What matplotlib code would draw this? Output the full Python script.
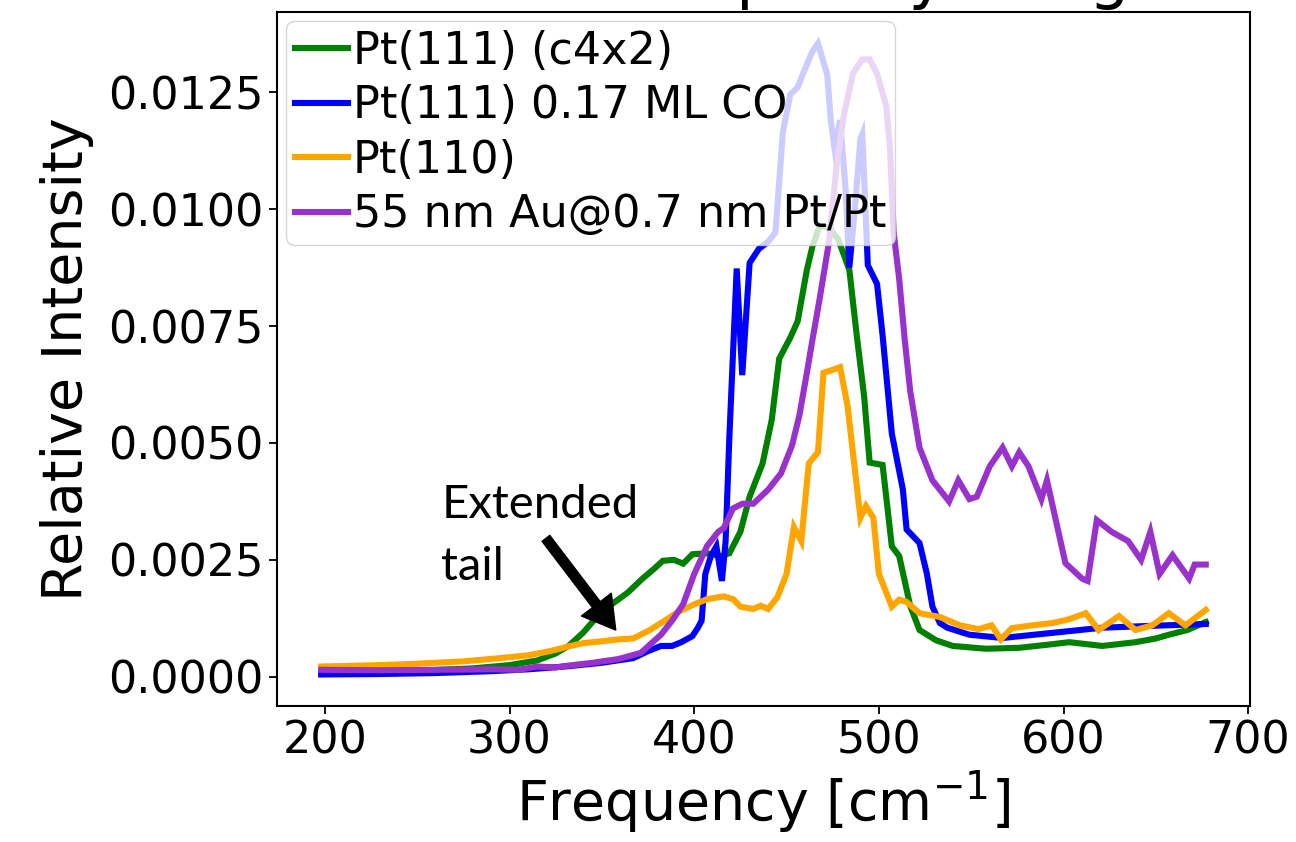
import matplotlib
matplotlib.use("Agg")
import matplotlib.pyplot as plt

# Spectra: frequency (cm^-1) and relative intensity for each surface
freq_c4x2 = [198, 220, 250, 280, 300, 315, 325, 332, 340, 349, 357, 364, 372, 378, 383,
             389, 394, 399, 407, 414, 419, 425, 430, 437, 442, 446, 452, 456, 461, 464,
             468, 473, 478, 484, 488, 492, 495, 502, 507, 511, 517, 522, 531, 540, 558,
             576, 590, 603, 612, 621, 639, 650, 657, 667, 677]
int_c4x2 = [0.00010, 0.00011, 0.00013, 0.00018, 0.00025, 0.00035, 0.00050, 0.00066,
            0.00095, 0.00136, 0.00160, 0.00180, 0.00210, 0.00230, 0.00248, 0.00250,
            0.00242, 0.00262, 0.00264, 0.00258, 0.00264, 0.00310, 0.00385, 0.00456,
            0.00550, 0.00680, 0.00725, 0.00760, 0.00870, 0.00920, 0.00965, 0.00960,
            0.00935, 0.00870, 0.00730, 0.00600, 0.00458, 0.00453, 0.00279, 0.00258,
            0.00151, 0.00100, 0.00078, 0.00066, 0.00060, 0.00062, 0.00068, 0.00074,
            0.00070, 0.00066, 0.00074, 0.00082, 0.00090, 0.00100, 0.00117]

freq_co = [198, 230, 260, 290, 310, 330, 350, 367, 375, 382, 388, 393, 399, 402, 404,
           406, 409, 412, 415, 417, 419, 423, 426, 430, 435, 440, 444, 448, 452, 456,
           459, 464, 467, 472, 474, 476, 479, 482, 484, 487, 490, 491, 494, 499, 502,
           507, 513, 515, 522, 526, 529, 533, 537, 549, 567, 594, 621, 648, 677]
int_co = [0.00005, 0.00006, 0.00008, 0.00012, 0.00016, 0.00022, 0.00030, 0.00040,
          0.00055, 0.00066, 0.00066, 0.00074, 0.00087, 0.00105, 0.00120, 0.00220,
          0.00258, 0.00279, 0.00205, 0.00290, 0.00510, 0.00873, 0.00645, 0.00885,
          0.00915, 0.00930, 0.00950, 0.01165, 0.01245, 0.01260, 0.01290, 0.01337,
          0.01354, 0.01288, 0.01188, 0.01130, 0.01190, 0.01040, 0.00875, 0.01000,
          0.01150, 0.01160, 0.00880, 0.00840, 0.00730, 0.00520, 0.00400, 0.00315,
          0.00286, 0.00220, 0.00150, 0.00115, 0.00105, 0.00090, 0.00083, 0.00094,
          0.00105, 0.00109, 0.00113]

freq_110 = [198, 230, 250, 275, 295, 310, 322, 333, 340, 350, 359, 367, 376, 384, 391,
            400, 407, 416, 421, 425, 432, 436, 440, 445, 450, 454, 458, 462, 467, 470,
            474, 479, 483, 490, 493, 497, 500, 507, 511, 515, 522, 533, 544, 554, 561,
            566, 572, 583, 594, 603, 612, 619, 630, 639, 648, 657, 666, 677]
int_110 = [0.00022, 0.00025, 0.00028, 0.00033, 0.00040, 0.00046, 0.00055, 0.00066,
           0.00072, 0.00076, 0.00080, 0.00082, 0.00100, 0.00120, 0.00138, 0.00155,
           0.00166, 0.00172, 0.00166, 0.00150, 0.00145, 0.00152, 0.00145, 0.00170,
           0.00220, 0.00320, 0.00290, 0.00456, 0.00480, 0.00650, 0.00655, 0.00662,
           0.00580, 0.00340, 0.00365, 0.00340, 0.00220, 0.00150, 0.00165, 0.00160,
           0.00136, 0.00128, 0.00110, 0.00102, 0.00110, 0.00080, 0.00104, 0.00110,
           0.00115, 0.00123, 0.00136, 0.00100, 0.00130, 0.00100, 0.00110, 0.00136,
           0.00110, 0.00143]

freq_aupt = [198, 230, 260, 290, 305, 315, 325, 332, 345, 359, 371, 382, 388, 394, 400,
             407, 413, 416, 421, 426, 432, 440, 447, 453, 457, 461, 464, 468, 473, 477,
             481, 486, 491, 495, 499, 504, 506, 508, 511, 514, 517, 522, 529, 538, 543,
             549, 553, 560, 567, 572, 576, 581, 588, 591, 601, 610, 613, 618, 626, 635,
             642, 647, 652, 659, 668, 671, 677]
int_aupt = [0.00015, 0.00014, 0.00015, 0.00016, 0.00015, 0.00022, 0.00020, 0.00024,
            0.00030, 0.00038, 0.00051, 0.00090, 0.00120, 0.00155, 0.00220, 0.00280,
            0.00310, 0.00318, 0.00360, 0.00370, 0.00370, 0.00400, 0.00435, 0.00495,
            0.00560, 0.00650, 0.00720, 0.00810, 0.00930, 0.01090, 0.01200, 0.01290,
            0.01320, 0.01320, 0.01290, 0.01220, 0.01130, 0.00950, 0.00850, 0.00720,
            0.00610, 0.00490, 0.00420, 0.00375, 0.00420, 0.00380, 0.00385, 0.00450,
            0.00490, 0.00450, 0.00480, 0.00450, 0.00380, 0.00420, 0.00243, 0.00210,
            0.00205, 0.00335, 0.00310, 0.00290, 0.00250, 0.00310, 0.00220, 0.00260,
            0.00210, 0.00240, 0.00240]

labels = ["Pt(111) (c4x2)", "Pt(111) 0.17 ML CO", "Pt(110)", "55 nm Au@0.7 nm Pt/Pt"]
colors = ["green", "blue", "orange", "darkorchid"]
y_ticks = [0.0, 0.0025, 0.0050, 0.0075, 0.0100, 0.0125]
x_ticks = [200, 300, 400, 500, 600, 700]

fig = plt.figure(figsize=(12.96, 8.42), dpi=100)
ax = fig.add_axes([0.2137, 0.1615, 0.7508, 0.8243])

series = [(freq_c4x2, int_c4x2), (freq_co, int_co), (freq_110, int_110), (freq_aupt, int_aupt)]
for (fx, fy), lab, col in zip(series, labels, colors):
    ax.plot(fx, fy, color=col, lw=4.4, label=lab, solid_joinstyle="miter")

ax.set_xticks(x_ticks)
ax.set_yticks(y_ticks)
ax.yaxis.set_major_formatter(matplotlib.ticker.FormatStrFormatter("%.4f"))
ax.tick_params(labelsize=32, length=6, width=1.3)
for sp in ax.spines.values():
    sp.set_linewidth(1.5)

ax.set_xlabel("Frequency [cm$^{-1}$]", fontsize=40, labelpad=4)
ax.set_ylabel("Relative Intensity", fontsize=40, labelpad=10)
ax.set_title("Phonon Frequency Range", fontsize=46, pad=11)

ax.legend(loc="upper left", fontsize=32, handlelength=1.2, handletextpad=0.1,
          labelspacing=0.26, borderpad=0.2, borderaxespad=0.2, framealpha=0.8)

ax.text(263, 0.00413, "Extended\ntail", family="Lato", fontsize=34,
        ha="left", va="top", linespacing=1.6)
ax.annotate("", xy=(357.5, 0.0010), xytext=(319.7, 0.00296),
            arrowprops=dict(facecolor="black", edgecolor="black", width=7,
                            headwidth=27, headlength=23, shrink=0))

fig.savefig("out.png", dpi=100)
